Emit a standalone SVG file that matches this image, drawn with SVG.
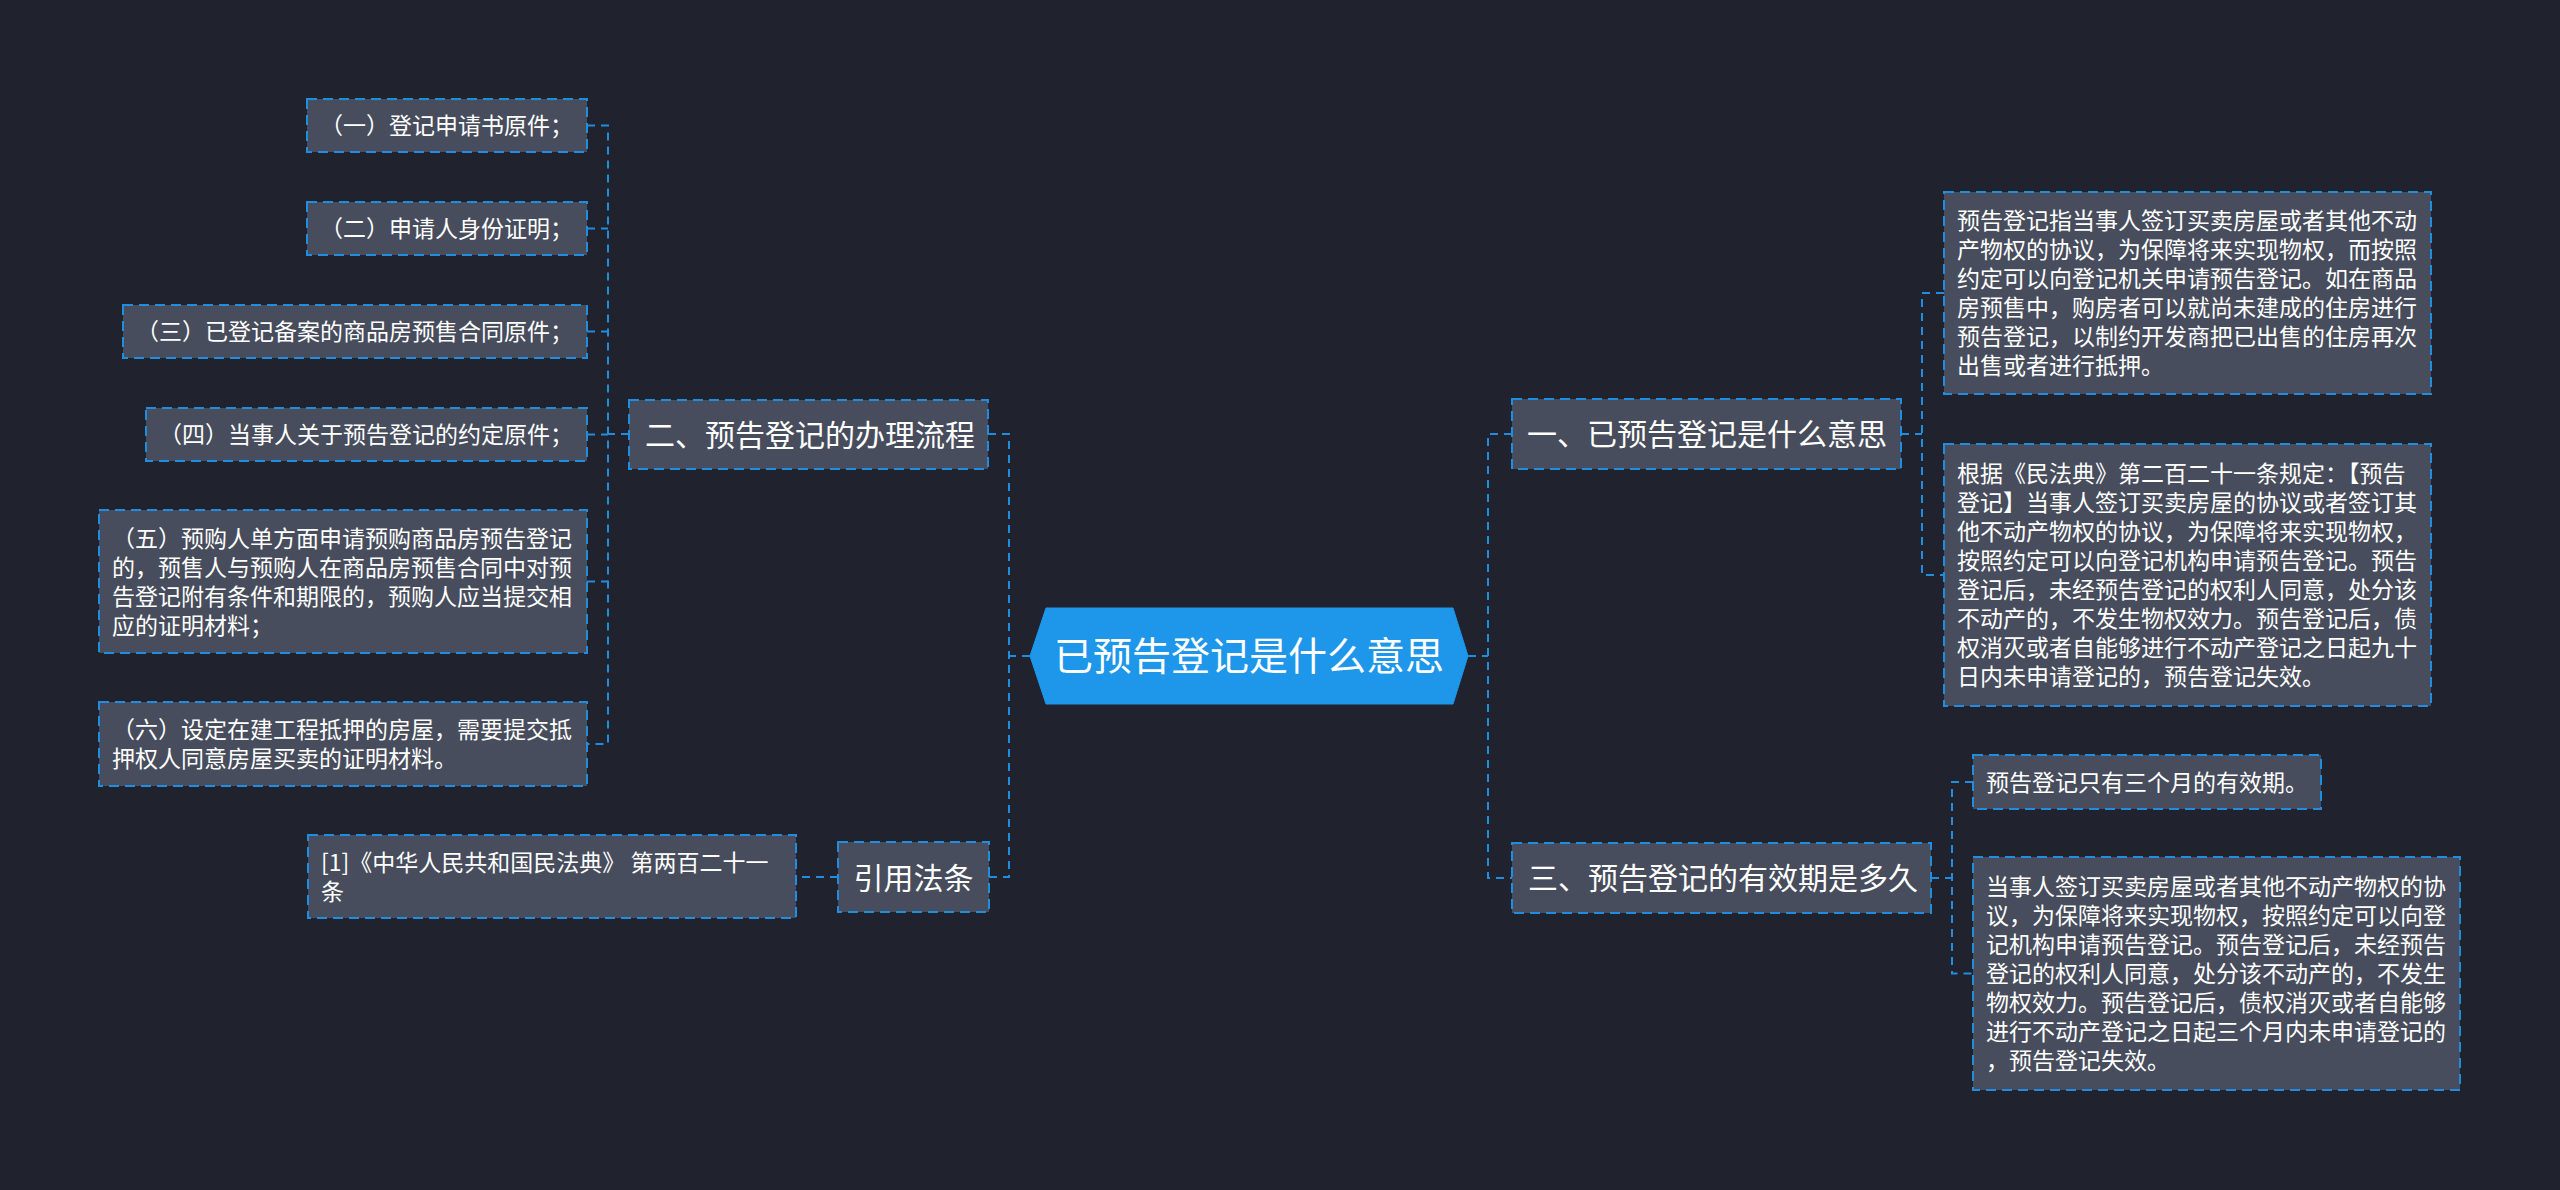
<svg xmlns="http://www.w3.org/2000/svg" width="2560" height="1190" viewBox="0 0 2560 1190">
<defs>
<style>
.bg{fill:#20232e}
.box{fill:#474d5c;stroke:#1f8de0;stroke-width:2;stroke-dasharray:10 6}
.hex{fill:#1e96ea;stroke:#1e96ea;stroke-width:1}
.t{font-family:"Noto Sans CJK SC","Liberation Sans",sans-serif;fill:#ffffff}
.s{font-size:23px}
.m{font-size:30px}
.c{font-size:39px}
.con{fill:none;stroke:#1f8de0;stroke-width:2;stroke-dasharray:8 6}
</style>
</defs>
<rect class="bg" x="0" y="0" width="2560" height="1190"/>

<g id="connectors">
<path class="con" d="M1030,656 H1009"/>
<path class="con" d="M988,434 H1009 V877 H989"/>
<path class="con" d="M629,434 H608"/>
<path class="con" d="M587,125.5 H608 V744 H587"/>
<path class="con" d="M587,228.5 H608"/>
<path class="con" d="M587,331.5 H608"/>
<path class="con" d="M587,434.5 H608"/>
<path class="con" d="M587,581.5 H608"/>
<path class="con" d="M838,877 H796"/>
<path class="con" d="M1468,656 H1488"/>
<path class="con" d="M1512,434 H1488 V878 H1512"/>
<path class="con" d="M1901,434 H1922"/>
<path class="con" d="M1944,293 H1922 V575 H1944"/>
<path class="con" d="M1931,878 H1952"/>
<path class="con" d="M1973,782 H1952 V973.5 H1973"/>
</g>

<g id="root">
<polygon class="hex" points="1030,656 1046,608 1453,608 1468,656 1453,704 1046,704"/>
<text class="t c" x="1249" y="670" text-anchor="middle">已预告登记是什么意思</text>
</g>

<g id="n2">
<rect class="box" x="629" y="400" width="359" height="69"/>
<text class="t m" x="645" y="446">二、预告登记的办理流程</text>
</g>

<g id="n2-1">
<rect class="box" x="307" y="99" width="280" height="53"/>
<text class="t s" x="320" y="134">（一）登记申请书原件；</text>
</g>
<g id="n2-2">
<rect class="box" x="307" y="202" width="280" height="53"/>
<text class="t s" x="320" y="237">（二）申请人身份证明；</text>
</g>
<g id="n2-3">
<rect class="box" x="123" y="305" width="464" height="53"/>
<text class="t s" x="136" y="340">（三）已登记备案的商品房预售合同原件；</text>
</g>
<g id="n2-4">
<rect class="box" x="146" y="408" width="441" height="53"/>
<text class="t s" x="159" y="443">（四）当事人关于预告登记的约定原件；</text>
</g>
<g id="n2-5">
<rect class="box" x="99" y="510" width="488" height="143"/>
<text class="t s" y="546.7"><tspan x="112">（五）预购人单方面申请预购商品房预告登记</tspan><tspan x="112" dy="29">的，预售人与预购人在商品房预售合同中对预</tspan><tspan x="112" dy="29">告登记附有条件和期限的，预购人应当提交相</tspan><tspan x="112" dy="29">应的证明材料；</tspan></text>
</g>
<g id="n2-6">
<rect class="box" x="99" y="702" width="488" height="84"/>
<text class="t s" y="738.2"><tspan x="112">（六）设定在建工程抵押的房屋，需要提交抵</tspan><tspan x="112" dy="29">押权人同意房屋买卖的证明材料。</tspan></text>
</g>

<g id="n4">
<rect class="box" x="838" y="842" width="151" height="70"/>
<text class="t m" x="853.5" y="888.5">引用法条</text>
</g>
<g id="n4-1">
<rect class="box" x="308" y="835" width="488" height="83"/>
<text class="t s" y="870.7"><tspan x="321">[1]《中华人民共和国民法典》 第两百二十一</tspan><tspan x="321" dy="29">条</tspan></text>
</g>

<g id="n1">
<rect class="box" x="1512" y="399" width="389" height="70"/>
<text class="t m" x="1527" y="445.4">一、已预告登记是什么意思</text>
</g>
<g id="n1-1">
<rect class="box" x="1944" y="192" width="487" height="202"/>
<text class="t s" y="229.2"><tspan x="1957">预告登记指当事人签订买卖房屋或者其他不动</tspan><tspan x="1957" dy="29">产物权的协议，为保障将来实现物权，而按照</tspan><tspan x="1957" dy="29">约定可以向登记机关申请预告登记。如在商品</tspan><tspan x="1957" dy="29">房预售中，购房者可以就尚未建成的住房进行</tspan><tspan x="1957" dy="29">预告登记，以制约开发商把已出售的住房再次</tspan><tspan x="1957" dy="29">出售或者进行抵押。</tspan></text>
</g>
<g id="n1-2">
<rect class="box" x="1944" y="444" width="487" height="262"/>
<text class="t s" y="482.2"><tspan x="1957">根据《民法典》第二百二十一条规定：【预告</tspan><tspan x="1957" dy="29">登记】当事人签订买卖房屋的协议或者签订其</tspan><tspan x="1957" dy="29">他不动产物权的协议，为保障将来实现物权，</tspan><tspan x="1957" dy="29">按照约定可以向登记机构申请预告登记。预告</tspan><tspan x="1957" dy="29">登记后，未经预告登记的权利人同意，处分该</tspan><tspan x="1957" dy="29">不动产的，不发生物权效力。预告登记后，债</tspan><tspan x="1957" dy="29">权消灭或者自能够进行不动产登记之日起九十</tspan><tspan x="1957" dy="29">日内未申请登记的，预告登记失效。</tspan></text>
</g>

<g id="n3">
<rect class="box" x="1512" y="843" width="419" height="70"/>
<text class="t m" x="1528" y="889.4">三、预告登记的有效期是多久</text>
</g>
<g id="n3-1">
<rect class="box" x="1973" y="755" width="348" height="54"/>
<text class="t s" x="1986" y="790.7">预告登记只有三个月的有效期。</text>
</g>
<g id="n3-2">
<rect class="box" x="1973" y="857" width="487" height="233"/>
<text class="t s" y="895.2"><tspan x="1986">当事人签订买卖房屋或者其他不动产物权的协</tspan><tspan x="1986" dy="29">议，为保障将来实现物权，按照约定可以向登</tspan><tspan x="1986" dy="29">记机构申请预告登记。预告登记后，未经预告</tspan><tspan x="1986" dy="29">登记的权利人同意，处分该不动产的，不发生</tspan><tspan x="1986" dy="29">物权效力。预告登记后，债权消灭或者自能够</tspan><tspan x="1986" dy="29">进行不动产登记之日起三个月内未申请登记的</tspan><tspan x="1986" dy="29">，预告登记失效。</tspan></text>
</g>
</svg>
